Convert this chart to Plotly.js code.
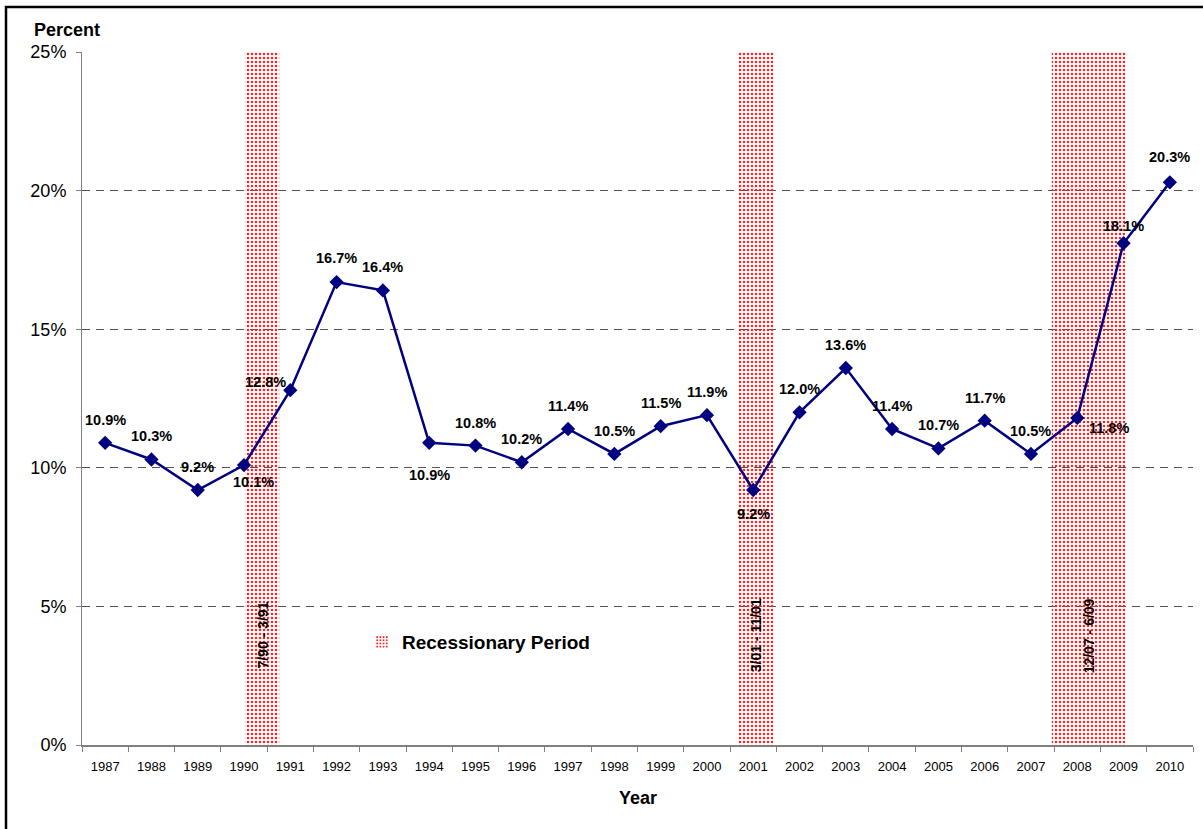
<!DOCTYPE html>
<html><head><meta charset="utf-8">
<script src="https://cdn.plot.ly/plotly-3.0.1.min.js"></script>
<style>html,body{margin:0;padding:0;background:#fff;} #chart{width:1203px;height:829px;}</style>
</head><body><div id="chart"></div>
<script>
// ---- data ----
const years = [1987,1988,1989,1990,1991,1992,1993,1994,1995,1996,1997,1998,1999,2000,2001,2002,2003,2004,2005,2006,2007,2008,2009,2010];
const rates = [10.9,10.3,9.2,10.1,12.8,16.7,16.4,10.9,10.8,10.2,11.4,10.5,11.5,11.9,9.2,12.0,13.6,11.4,10.7,11.7,10.5,11.8,18.1,20.3];
const recessionLabels = ['7/90 - 3/91','3/01 - 11/01','12/07 - 6/09'];
const recessionStart = [1990.02, 2000.67, 2007.45];
const recessionEnd = [1990.76, 2001.44, 2009.05];
const recessionTop = 25;
const yTicks = [0,5,10,15,20,25];

// ---- label placement (pixels) ----
const labelShift = years.map(() => [0, 23]);
labelShift[3] = [9, -17];
labelShift[4] = [-25, 8];
labelShift[5] = [0, 24];
labelShift[7] = [0, -32];
labelShift[14] = [0, -24];
labelShift[21] = [32, -10];
labelShift[22] = [0, 17];
labelShift[23] = [0, 25];

const FONT = 'Liberation Sans, Arial, sans-serif';
const boundaries = [];
for (let i = 0; i <= years.length; i++) boundaries.push(years[0] - 0.5 + i);
const xRange = [years[0] - 0.5, years[years.length - 1] + 0.5];

const bars = {
  type: 'bar', xaxis: 'x', yaxis: 'y',
  x: recessionStart.map((s, i) => (s + recessionEnd[i]) / 2),
  y: recessionStart.map(() => recessionTop),
  base: recessionStart.map(() => 0),
  width: recessionStart.map((s, i) => recessionEnd[i] - s),
  name: 'Recessionary Period',
  marker: {color: '#ffe4e4', line: {width: 0},
    pattern: {shape: '.', fgcolor: '#ff2020', size: 4, solidity: 0.3}},
  hoverinfo: 'skip', showlegend: true
};
const line = {
  type: 'scatter', mode: 'lines+markers', xaxis: 'x2', yaxis: 'y',
  x: years, y: rates,
  line: {color: '#000080', width: 2.5},
  marker: {symbol: 'diamond', size: 11, color: '#000080'},
  showlegend: false
};

const annotations = rates.map((v, i) => ({
  xref: 'x2', yref: 'y', x: years[i], y: v, showarrow: false,
  text: v.toFixed(1) + '%', xshift: labelShift[i][0], yshift: labelShift[i][1],
  font: {family: FONT, size: 14.5, color: '#000', weight: 'bold'}
}));
recessionLabels.forEach((t, i) => annotations.push({
  xref: 'x', yref: 'y', x: (recessionStart[i] + recessionEnd[i]) / 2, y: 3.95,
  text: t, textangle: -90, showarrow: false,
  font: {family: FONT, size: 14, color: '#000', weight: 'bold'}
}));
annotations.push({xref: 'paper', yref: 'paper', x: -0.0135, y: 1.0317, xanchor: 'center', yanchor: 'middle',
  text: 'Percent', showarrow: false, font: {family: FONT, size: 18, color: '#000', weight: 'bold'}});
annotations.push({xref: 'paper', yref: 'paper', x: 0.5, y: -0.0765, xanchor: 'center', yanchor: 'middle',
  text: 'Year', showarrow: false, font: {family: FONT, size: 18, color: '#000', weight: 'bold'}});

const layout = {
  width: 1203, height: 829,
  margin: {l: 82, r: 10, t: 52, b: 84},
  paper_bgcolor: '#fff', plot_bgcolor: '#fff',
  font: {family: FONT, color: '#000'},
  xaxis: {type: 'linear', range: xRange, tickvals: boundaries, showticklabels: false,
    ticks: 'outside', ticklen: 5, tickcolor: '#808080', tickwidth: 1,
    showline: true, linecolor: '#808080', linewidth: 2, showgrid: false, zeroline: false, fixedrange: true},
  xaxis2: {type: 'linear', range: xRange, overlaying: 'x', anchor: 'y', side: 'bottom',
    tickvals: years, ticktext: years.map(String), ticks: '', ticklabelstandoff: 12,
    tickfont: {family: FONT, size: 13, color: '#000'},
    showline: false, showgrid: false, zeroline: false, fixedrange: true},
  yaxis: {range: [0, 25], tickvals: yTicks, ticktext: yTicks.map(v => v + '%'),
    ticks: 'outside', ticklen: 5, tickcolor: '#808080', ticklabelstandoff: 6,
    tickfont: {family: FONT, size: 18, color: '#000'},
    showline: true, linecolor: '#808080', linewidth: 1,
    showgrid: true, gridcolor: '#555', gridwidth: 1, griddash: '8px,6px', zeroline: false, fixedrange: true},
  showlegend: true,
  legend: {x: 0.252, y: 0.1486, xanchor: 'left', yanchor: 'middle', bgcolor: 'rgba(0,0,0,0)',
    font: {family: FONT, size: 19, color: '#000', weight: 'bold'}},
  annotations: annotations,
  shapes: [{type: 'rect', xref: 'paper', yref: 'paper', x0: -0.0684, x1: 1.2, y0: -0.3, y1: 1.0649,
    line: {color: '#000', width: 2.5}, fillcolor: 'rgba(0,0,0,0)', layer: 'above'}]
};

Plotly.newPlot('chart', [bars, line], layout, {displayModeBar: false, staticPlot: true});
</script>
</body></html>
